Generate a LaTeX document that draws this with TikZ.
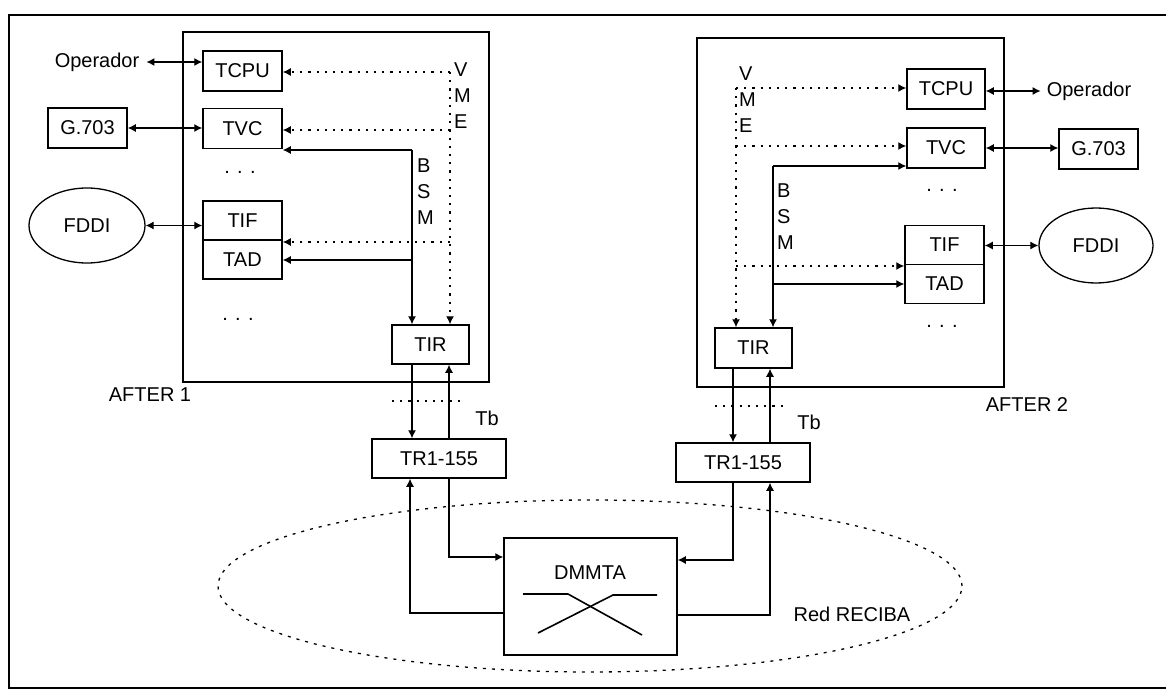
\documentclass[tikz,border=0pt]{standalone}
\usepackage{fontspec}
\setmainfont{Liberation Sans}
\usetikzlibrary{shapes.geometric,arrows.meta}

\begin{document}
\begin{tikzpicture}[x=1pt,y=-1pt,
  font=\fontsize{20}{24}\selectfont,
  box/.style={draw,line width=1.5pt,inner sep=0pt,minimum width=79pt,minimum height=40pt},
  ovalbox/.style={draw,ellipse,line width=1.3pt,inner sep=0pt,minimum width=116pt,minimum height=75pt},
  outline/.style={line width=1.8pt},
  link/.style={line width=1.1pt},
  bus/.style={line width=1.3pt,dash pattern=on 2.2pt off 6pt},
  arr/.style={-{Latex[length=8pt,width=8pt]}},
  darr/.style={{Latex[length=8pt,width=8pt]}-{Latex[length=8pt,width=8pt]}},
  lbl/.style={inner sep=0pt},
  stack/.style={inner sep=0pt,align=left,anchor=west,font=\fontsize{20}{26}\selectfont}
]
\useasboundingbox (0,0) rectangle (1166,695);

% outer frame (open on the right)
\draw[outline] (1170,15) -- (9,15) -- (9,688) -- (1170,688);

% equipment enclosures
\draw[outline] (183,32) rectangle (489,382);
\draw[outline] (697,38) rectangle (1004,387);
\node[lbl] (afterA) at (150,395) {AFTER 1};
\node[lbl] (afterB) at (1027,405) {AFTER 2};

% ---------- AFTER 1 ----------
\node[box] (tcpuA) at (242.5,71) {TCPU};
\node[box] (tvcA) at (242.5,128.5) {TVC};
\node[box] (gA) at (87.5,128) {G.703};
\node[ovalbox] (fA) at (87,225.5) {FDDI};
\node[box,minimum height=39pt] (tifA) at (242.5,220.5) {TIF};
\node[box,minimum height=39pt] (tadA) at (242.5,259.5) {TAD};
\node[lbl] (opA) at (97,62) {Operador};
\node[lbl] (dotsA1) at (240,172) {. . .};
\node[lbl] (dotsA2) at (238,319) {. . .};
\node[box,minimum width=77pt,minimum height=39pt] (tirA) at (430.5,344.5) {TIR};
\node[box,minimum width=134pt,minimum height=39pt] (trA) at (439,458.5) {TR1-155};

\node[stack] (vmeA) at (454,96) {V\\M\\E};
\node[stack] (bsmA) at (417,192) {B\\S\\M};

% ---------- AFTER 2 ----------
\node[box,minimum width=78pt] (tcpuB) at (946,89) {TCPU};
\node[box,minimum width=78pt] (tvcB) at (946,148) {TVC};
\node[box] (gB) at (1098.5,149) {G.703};
\node[box,minimum height=39pt] (tifB) at (944.5,245) {TIF};
\node[box,minimum height=39pt] (tadB) at (944.5,284) {TAD};
\node[ovalbox,minimum width=114pt] (fB) at (1096,245.5) {FDDI};
\node[lbl] (opB) at (1089,91) {Operador};
\node[lbl] (dotsB1) at (942,190) {. . .};
\node[lbl] (dotsB2) at (942,326) {. . .};
\node[box,minimum width=77pt] (tirB) at (753.5,348) {TIR};
\node[box,minimum width=134pt,minimum height=39pt] (trB) at (743,462.5) {TR1-155};

\node[stack] (vmeB) at (739,100) {V\\M\\E};
\node[stack] (bsmB) at (777,217) {B\\S\\M};

% ---------- RECIBA network ----------
\node[draw,ellipse,line width=1.3pt,dash pattern=on 3pt off 6pt,
      minimum width=744pt,minimum height=172pt] (reciba) at (590,586) {};
\node[lbl] (recibaL) at (852,614) {Red RECIBA};
\node[box,minimum width=173pt,minimum height=117pt,fill=white] (dm) at (590.5,596.5) {};
\node[lbl] (dmt) at (590,573) {DMMTA};
\draw[line width=1.6pt] (523,594) -- (568,594) -- (642,635);
\draw[line width=1.6pt] (538,633) -- (613,595) -- (657,595);

% Tb reference points
\draw[bus] (392,401) -- (463,401);
\draw[bus] (715,406) -- (786,406);
\node[lbl] (tbA) at (487,418) {Tb};
\node[lbl] (tbB) at (809,422) {Tb};

% ---------- bus corners ----------
\coordinate (vA1) at (450,72);
\coordinate (vA2) at (450,130);
\coordinate (vA3) at (450,242);
\coordinate (bA1) at (412,150);
\coordinate (bA2) at (412,260);
\coordinate (cA1) at (410,613);
\coordinate (cA2) at (449,557);

\coordinate (vB1) at (736,88);
\coordinate (vB2) at (736,146);
\coordinate (vB3) at (736,266);
\coordinate (bB1) at (773,166);
\coordinate (bB2) at (773,284);
\coordinate (cB1) at (733,560);
\coordinate (cB2) at (770,615);

% ---------- AFTER 1 connections ----------
\draw[link,darr] ([xshift=7pt]opA.east) -- (tcpuA.west |- opA.east);
\draw[link,darr] (gA.east) -- (tvcA.west |- gA.east);
\draw[link,darr] (fA.east) -- (tifA.west |- fA.east);

\draw[bus,arr] (vA1) -- (tcpuA.east |- vA1);
\draw[bus,arr] (vA2) -- (tvcA.east |- vA2);
\draw[bus,arr] (vA3) -- (tifA.east |- vA3);
\draw[bus,arr] (vA1) -- (vA1 |- tirA.north);

\draw[link,arr] (bA1) -- (tvcA.east |- bA1);
\draw[link,arr] (bA2) -- (tadA.east |- bA2);
\draw[link,arr] (bA1) -- (bA1 |- tirA.north);

\draw[link,arr] (tirA.south -| bA1) -- (trA.north -| bA1);
\draw[link,arr] (trA.north -| cA2) -- (tirA.south -| cA2);
\draw[link,arr] (dm.west |- cA1) -- (cA1) -- (trA.south -| cA1);
\draw[link,arr] (trA.south -| cA2) -- (cA2) -- (dm.west |- cA2);

% ---------- AFTER 2 connections ----------
\draw[link,darr] (tcpuB.east |- opB.west) -- ([xshift=-6pt]opB.west);
\draw[link,darr] (tvcB.east) -- (gB.west |- tvcB.east);
\draw[link,darr] (tifB.east |- fB.west) -- (fB.west);

\draw[bus,arr] (vB1) -- (tcpuB.west |- vB1);
\draw[bus,arr] (vB2) -- (tvcB.west |- vB2);
\draw[bus,arr] (vB3) -- (tifB.west |- vB3);
\draw[bus,arr] (vB1) -- (vB1 |- tirB.north);

\draw[link,arr] (bB1) -- (tvcB.west |- bB1);
\draw[link,arr] (bB2) -- (tadB.west |- bB2);
\draw[link,arr] (bB1) -- (bB1 |- tirB.north);

\draw[link,arr] (tirB.south -| cB1) -- (trB.north -| cB1);
\draw[link,arr] (trB.north -| cB2) -- (tirB.south -| cB2);
\draw[link,arr] (trB.south -| cB1) -- (cB1) -- (dm.east |- cB1);
\draw[link,arr] (dm.east |- cB2) -- (cB2) -- (trB.south -| cB2);
\end{tikzpicture}
\end{document}
